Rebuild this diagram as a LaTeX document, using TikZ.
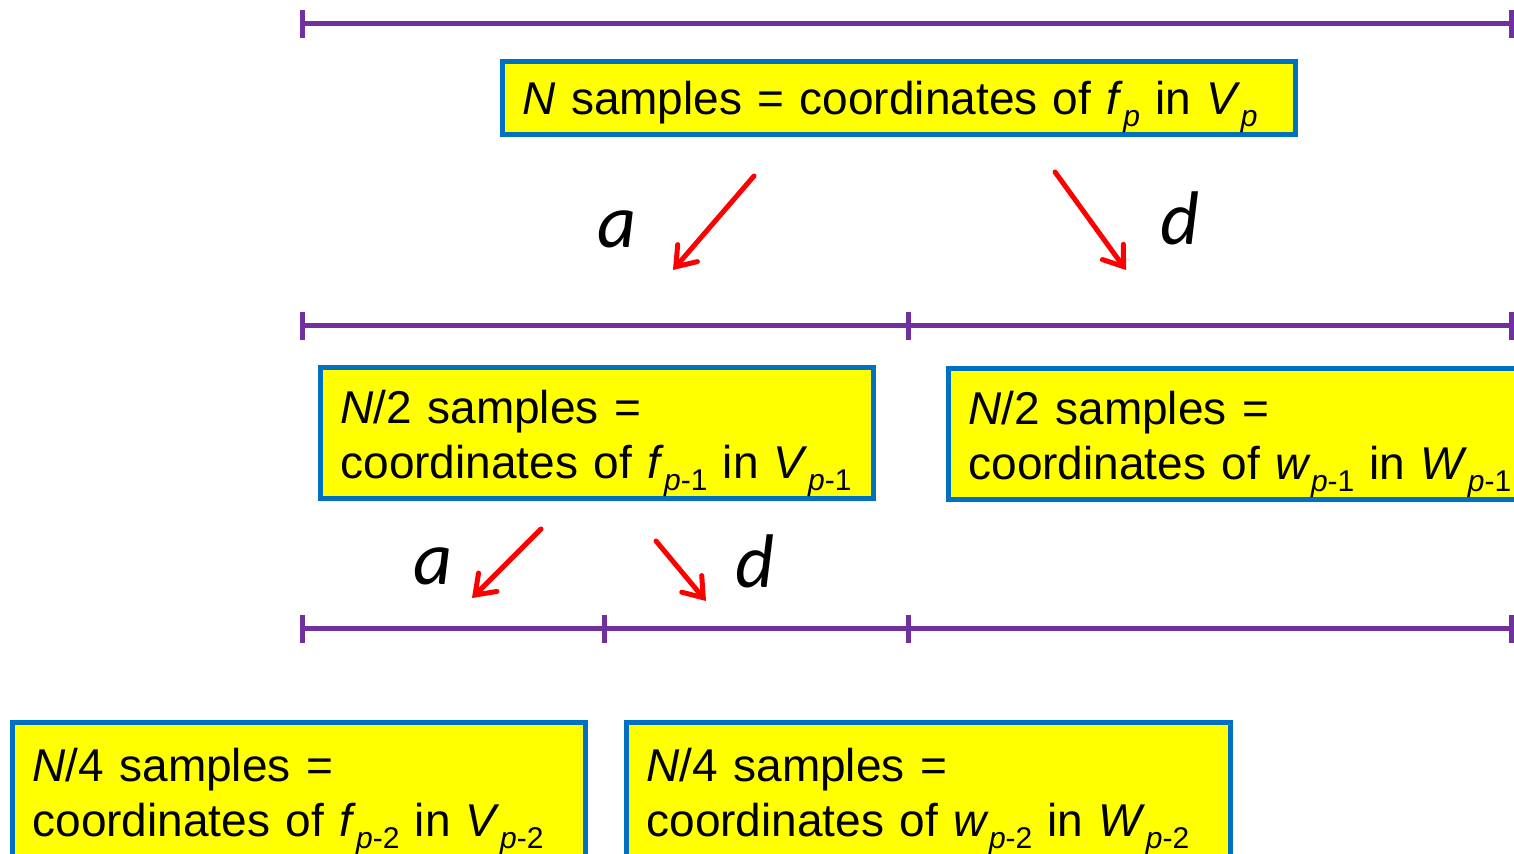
\documentclass[tikz,border=0pt]{standalone}
\usepackage{fontspec}
\setmainfont{Liberation Sans}
\newfontfamily\filterfont{Carlito}
\usetikzlibrary{arrows.meta}

\definecolor{scalepurple}{RGB}{112,48,160}
\definecolor{boxblue}{RGB}{0,112,192}
\definecolor{boxyellow}{RGB}{255,255,0}

% lowered index, e.g. f_{p-1}
\newcommand{\lowidx}[1]{\raisebox{-6pt}{\fontsize{15}{15}\selectfont #1}}

\begin{document}
\begin{tikzpicture}[x=0.5pt, y=-0.5pt,
  every node/.style={font=\fontsize{23}{27.5}\selectfont},
  coefbox/.style={draw=boxblue, line width=2.5pt, fill=boxyellow, anchor=north west,
    inner xsep=10pt, inner ysep=0pt, align=left},
  scaleline/.style={scalepurple, line width=2.5pt},
  filter/.style={red, line width=2.5pt, line cap=round,
    -{Straight Barb[length=9pt, width=13pt, line cap=round]}},
  filtname/.style={font=\filterfont\itshape\fontsize{38}{40}\selectfont, anchor=base}]

  \useasboundingbox (0,0) rectangle (1514,854);
  \clip (0,0) rectangle (1514,854);

  % Sample scales
  \draw[scaleline] (302,24) -- (1511,24);
  \foreach \x in {302,1511}
    \draw[scaleline] (\x,10) -- (\x,38);
  \draw[scaleline] (302,326) -- (1511,326);
  \foreach \x in {302,908,1511}
    \draw[scaleline] (\x,312) -- (\x,340);
  \draw[scaleline] (302,629) -- (1511,629);
  \foreach \x in {302,604,908,1511}
    \draw[scaleline] (\x,615) -- (\x,643);

  % Coefficient boxes
  \node[coefbox, text width=376.5pt, text height=26.5pt, text depth=10pt]
    (vp) at (500,59)
    {\textit{N} samples = coordinates of \textit{f}\lowidx{\textit{p}} in \textit{V}\lowidx{\textit{p}}};

  \node[coefbox, text width=256.5pt, text height=28.25pt, text depth=37.25pt]
    (vp1) at (318,365)
    {\textit{N}/2 samples =\\\mbox{coordinates of \textit{f}\lowidx{\textit{p}-1} in \textit{V}\lowidx{\textit{p}-1}}};
  \node[coefbox, text width=284.5pt, text height=28.25pt, text depth=37.25pt]
    (wp1) at (946,366)
    {\textit{N}/2 samples =\\\mbox{coordinates of \textit{w}\lowidx{\textit{p}-1} in \textit{W}\lowidx{\textit{p}-1}}};

  \node[coefbox, text width=266.5pt, text height=29.25pt, text depth=50pt]
    (vp2) at (10,720)
    {\textit{N}/4 samples =\\\mbox{coordinates of \textit{f}\lowidx{\textit{p}-2} in \textit{V}\lowidx{\textit{p}-2}}};
  \node[coefbox, text width=282pt, text height=29.25pt, text depth=50pt]
    (wp2) at (624,720)
    {\textit{N}/4 samples =\\\mbox{coordinates of \textit{w}\lowidx{\textit{p}-2} in \textit{W}\lowidx{\textit{p}-2}}};

  % Filter arrows
  \coordinate (a1s) at (754,176);
  \coordinate (a1e) at (673,270);
  \coordinate (d1s) at (1055,172);
  \coordinate (d1e) at (1126,270);
  \coordinate (a2s) at (541,529);
  \coordinate (a2e) at (472,598);
  \coordinate (d2s) at (656,541);
  \coordinate (d2e) at (706,601);
  \draw[filter] (a1s) -- (a1e);
  \draw[filter] (d1s) -- (d1e);
  \draw[filter] (a2s) -- (a2e);
  \draw[filter] (d2s) -- (d2e);

  \node[filtname] (a1) at (617,248) {a};
  \node[filtname] (d1) at (1180,245) {d};
  \node[filtname] (a2) at (433,585) {a};
  \node[filtname] (d2) at (755,588) {d};
\end{tikzpicture}
\end{document}
